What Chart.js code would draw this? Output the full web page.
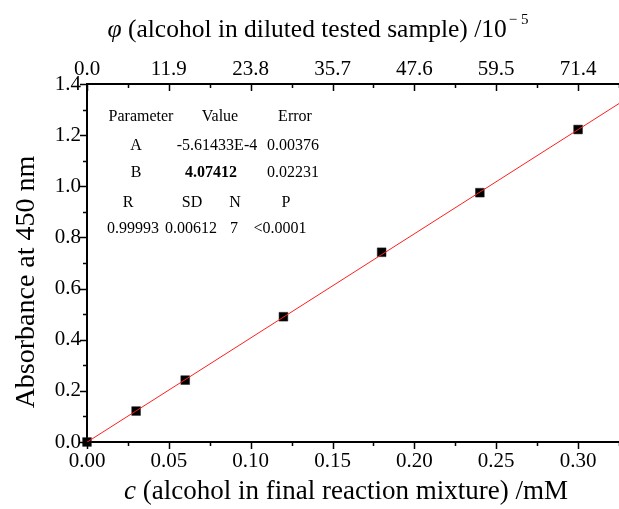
<!DOCTYPE html>
<html>
<head>
<meta charset="utf-8">
<script src="https://cdn.jsdelivr.net/npm/chart.js@4/dist/chart.umd.min.js"></script>
<style>
html,body{margin:0;padding:0;background:#fff;}
canvas{display:block;}
</style>
</head>
<body>
<canvas id="c" width="619" height="509"></canvas>
<script>
// ---- data ----
const concentrations = [0.00, 0.03, 0.06, 0.12, 0.18, 0.24, 0.30];   // mM
const absorbance     = [0.000, 0.121, 0.242, 0.490, 0.742, 0.975, 1.222];
const fitLineX = [0.0, 0.325];
const fitLineY = [-0.0006, 1.3235];
const topTickLabels = ["0.0", "11.9", "23.8", "35.7", "47.6", "59.5", "71.4"];
const tableHeader1 = ["Parameter", "Value", "Error"];
const tableRowA    = ["A", "-5.61433E-4", "0.00376"];
const tableRowB    = ["B", "4.07412", "0.02231"];
const tableHeader2 = ["R", "SD", "N", "P"];
const tableRowStat = ["0.99993", "0.00612", "7", "<0.0001"];

const SERIF = "'Liberation Serif','Times New Roman',serif";

const decorations = {
  id: 'decorations',
  afterDraw(chart) {
    const ctx = chart.ctx;
    const sx = chart.scales.x, sy = chart.scales.y, sx2 = chart.scales.x2;
    const a = chart.chartArea;
    ctx.save();
    ctx.strokeStyle = '#000';
    ctx.lineWidth = 1.5;
    ctx.beginPath();
    // x ticks (bottom outward, top inward)
    for (let i = 0; i <= 13; i++) {
      const v = i * 0.025;
      if (v > sx.max + 1e-9) break;
      const px = Math.round(sx.getPixelForValue(v)) + 0.5;
      const major = i % 2 === 0;
      const len = major ? 7 : 4;
      ctx.moveTo(px, a.bottom); ctx.lineTo(px, a.bottom + len);
      const px2 = Math.round(sx2.getPixelForValue(v)) + 0.5;
      ctx.moveTo(px2, a.top); ctx.lineTo(px2, a.top + len);
    }
    // y ticks (outward)
    for (let i = 0; i <= 14; i++) {
      const v = i * 0.1;
      const py = Math.round(sy.getPixelForValue(v)) + 0.5;
      const len = i % 2 === 0 ? 7 : 4;
      ctx.moveTo(a.left, py); ctx.lineTo(a.left - len, py);
    }
    ctx.stroke();

    ctx.fillStyle = '#000';
    // top title
    const big = 27, topSize = 25.5;
    const p1 = 'φ', p2 = ' (alcohol in diluted tested sample) /10';
    ctx.font = `italic ${topSize}px ${SERIF}`; const w1 = ctx.measureText(p1).width;
    ctx.font = `${topSize}px ${SERIF}`; const w2 = ctx.measureText(p2).width;
    ctx.font = `15px ${SERIF}`; const w3 = ctx.measureText('− 5').width;
    let x0 = 318 - (w1 + w2 + w3 + 2) / 2;
    ctx.textBaseline = 'alphabetic'; ctx.textAlign = 'left';
    ctx.font = `italic ${topSize}px ${SERIF}`; ctx.fillText(p1, x0, 37);
    ctx.font = `${topSize}px ${SERIF}`; ctx.fillText(p2, x0 + w1, 37);
    ctx.font = `15px ${SERIF}`; ctx.fillText('− 5', x0 + w1 + w2 + 2, 24);

    // bottom title
    const q1 = 'c', q2 = ' (alcohol in final reaction mixture) /mM';
    ctx.font = `italic ${big}px ${SERIF}`; const v1 = ctx.measureText(q1).width;
    ctx.font = `${big}px ${SERIF}`; const v2 = ctx.measureText(q2).width;
    let bx = 346 - (v1 + v2) / 2;
    ctx.font = `italic ${big}px ${SERIF}`; ctx.fillText(q1, bx, 499);
    ctx.font = `${big}px ${SERIF}`; ctx.fillText(q2, bx + v1, 499);

    // y title
    ctx.save();
    ctx.translate(27, 282);
    ctx.rotate(-Math.PI / 2);
    ctx.textAlign = 'center'; ctx.textBaseline = 'middle';
    ctx.font = `28px ${SERIF}`;
    ctx.fillText('Absorbance at 450 nm', 0, 0);
    ctx.restore();

    // stats table
    ctx.textAlign = 'center'; ctx.textBaseline = 'alphabetic';
    const f = `16px ${SERIF}`, fb = `bold 16px ${SERIF}`;
    const col3 = [141, 220, 295];
    ctx.font = f;
    tableHeader1.forEach((t, i) => ctx.fillText(t, col3[i], 121));
    const colA = [136, 217, 293];
    tableRowA.forEach((t, i) => ctx.fillText(t, colA[i], 150));
    tableRowB.forEach((t, i) => { ctx.font = i === 1 ? fb : f; ctx.fillText(t, colA[i] - (i===1?6:0), 177); });
    ctx.font = f;
    const col4 = [128, 192, 235, 286];
    tableHeader2.forEach((t, i) => ctx.fillText(t, col4[i], 207));
    const col4b = [133, 191, 234, 280];
    tableRowStat.forEach((t, i) => ctx.fillText(t, col4b[i], 233));
    ctx.restore();
  }
};

const tickFont = { family: SERIF, size: 21 };
const noGrid = { display: false, drawTicks: false, tickLength: 0 };
const fixH = h => s => { s.height = h; s.paddingRight = 0; s.paddingLeft = 0; };

new Chart(document.getElementById('c'), {
  type: 'scatter',
  data: {
    datasets: [
      {
        label: 'fit',
        data: fitLineX.map((x, i) => ({ x, y: fitLineY[i] })),
        showLine: true,
        borderColor: 'rgb(255,30,30)',
        borderWidth: 1,
        pointRadius: 0,
        order: 0
      },
      {
        label: 'data',
        data: concentrations.map((x, i) => ({ x, y: absorbance[i] })),
        pointStyle: 'rect',
        pointRadius: 6.2,
        backgroundColor: '#000',
        borderColor: '#222',
        borderWidth: 0.5,
        clip: false,
        order: 1
      }
    ]
  },
  options: {
    responsive: false,
    animation: false,
    layout: { padding: 0, autoPadding: false },
    plugins: { legend: { display: false }, tooltip: { enabled: false } },
    scales: {
      x: {
        type: 'linear', position: 'bottom', min: 0, max: 0.325,
        ticks: { stepSize: 0.05, includeBounds: false, autoSkip: false, maxRotation: 0,
                 callback: v => v.toFixed(2), font: tickFont, color: '#000', padding: 7 },
        grid: noGrid,
        border: { display: true, color: '#000', width: 2 },
        afterFit: fixH(67)
      },
      x2: {
        type: 'linear', position: 'top', min: 0, max: 0.325,
        ticks: { stepSize: 0.05, includeBounds: false, autoSkip: false, maxRotation: 0,
                 callback: (v, i) => topTickLabels[i], font: tickFont, color: '#000', padding: 2 },
        grid: noGrid,
        border: { display: true, color: '#000', width: 2 },
        afterFit: fixH(84)
      },
      y: {
        type: 'linear', position: 'left', min: 0, max: 1.4,
        ticks: { stepSize: 0.2, callback: v => v.toFixed(1), font: tickFont, color: '#000', padding: 6 },
        grid: noGrid,
        border: { display: true, color: '#000', width: 2 },
        afterFit: s => { s.width = 87; s.paddingTop = 0; s.paddingBottom = 0; }
      }
    }
  },
  plugins: [decorations]
});
</script>
</body>
</html>
